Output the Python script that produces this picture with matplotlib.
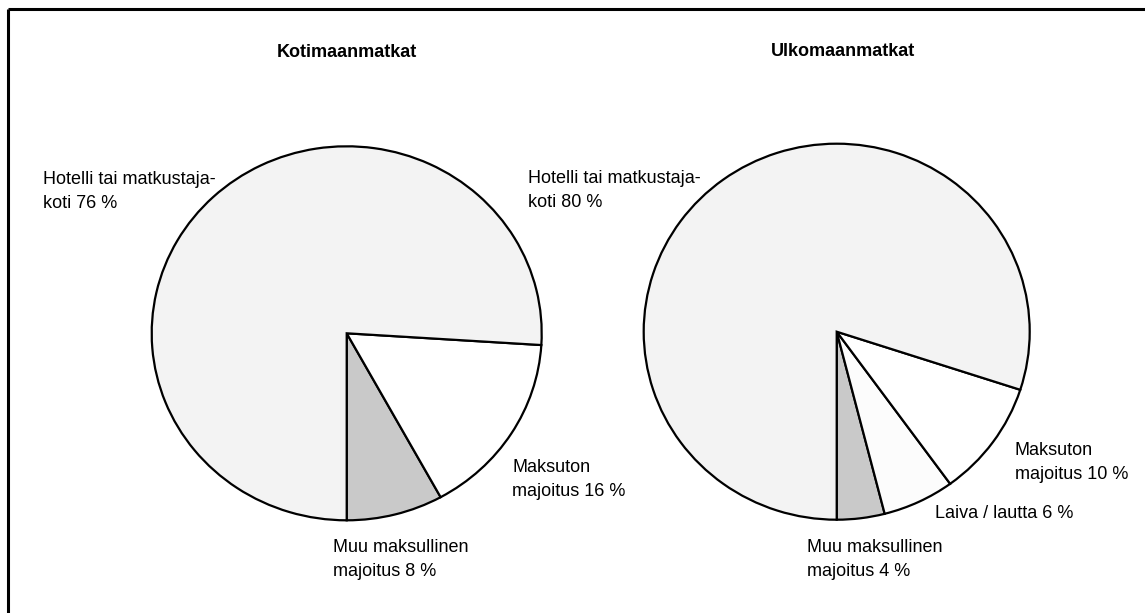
import matplotlib
matplotlib.use('Agg')
import matplotlib.pyplot as plt

# ---- data ----
titles = ['Kotimaanmatkat', 'Ulkomaanmatkat']

dom_labels = ['Muu maksullinen\nmajoitus 8 %',
              'Maksuton\nmajoitus 16 %',
              'Hotelli tai matkustaja-\nkoti 76 %']
dom_values = [8, 16, 76]

abr_labels = ['Muu maksullinen\nmajoitus 4 %',
              'Laiva / lautta 6 %',
              'Maksuton\nmajoitus 10 %',
              'Hotelli tai matkustaja-\nkoti 80 %']
abr_values = [4, 6, 10, 80]

# ---- styles / layout ----
dom_colors = ['#c9c9c9', '#ffffff', '#f3f3f3']
abr_colors = ['#c9c9c9', '#fcfcfc', '#ffffff', '#f3f3f3']

W, H = 1145, 613
FONT = ['Liberation Sans', 'DejaVu Sans']
plt.rcParams['font.family'] = FONT
FS = 13

fig = plt.figure(figsize=(W / 100, H / 100), dpi=100)
fig.patch.set_facecolor('white')

# background axes in pixel coordinates
bg = fig.add_axes([0, 0, 1, 1])
bg.set_xlim(0, W)
bg.set_ylim(H, 0)
bg.axis('off')

# frame (top and left visible)
bg.plot([8, W + 5], [9, 9], color='black', lw=2.2, solid_capstyle='butt')
bg.plot([8, 8], [9, H + 5], color='black', lw=2.2, solid_capstyle='butt')

# pie geometry: center x, center y, radius x, radius y (pixels)
pies = [
    (346.7, 333.3, 195, 187, dom_values, dom_colors, dom_labels,
     [(333, 552), (512, 472), (43, 184)], (346.5, 57)),
    (836.7, 331.7, 193, 188, abr_values, abr_colors, abr_labels,
     [(807, 552), (935, 518), (1015, 455), (528, 183)], (842.7, 56)),
]

for i, (cx, cy, rx, ry, vals, cols, labs, lpos, tpos) in enumerate(pies):
    ax = fig.add_axes([(cx - rx) / W, 1 - (cy + ry) / H, 2 * rx / W, 2 * ry / H])
    wedges, _ = ax.pie(vals, colors=cols, startangle=-90, counterclock=True,
                       radius=1.0,
                       wedgeprops=dict(edgecolor='black', linewidth=1.6))
    for w in wedges:
        w.set_clip_on(False)
    ax.set_xlim(-1, 1)
    ax.set_ylim(-1, 1)
    ax.set_aspect('auto')
    ax.axis('off')

    # title
    bg.text(tpos[0], tpos[1], titles[i], ha='center', va='baseline',
            fontsize=FS, fontweight='bold', color='black')
    # labels, line by line
    for lab, (lx, ly) in zip(labs, lpos):
        for j, line in enumerate(lab.split('\n')):
            bg.text(lx, ly + j * 24, line, ha='left', va='baseline',
                    fontsize=FS, color='black')

fig.savefig('out.png', dpi=100, facecolor='white')
